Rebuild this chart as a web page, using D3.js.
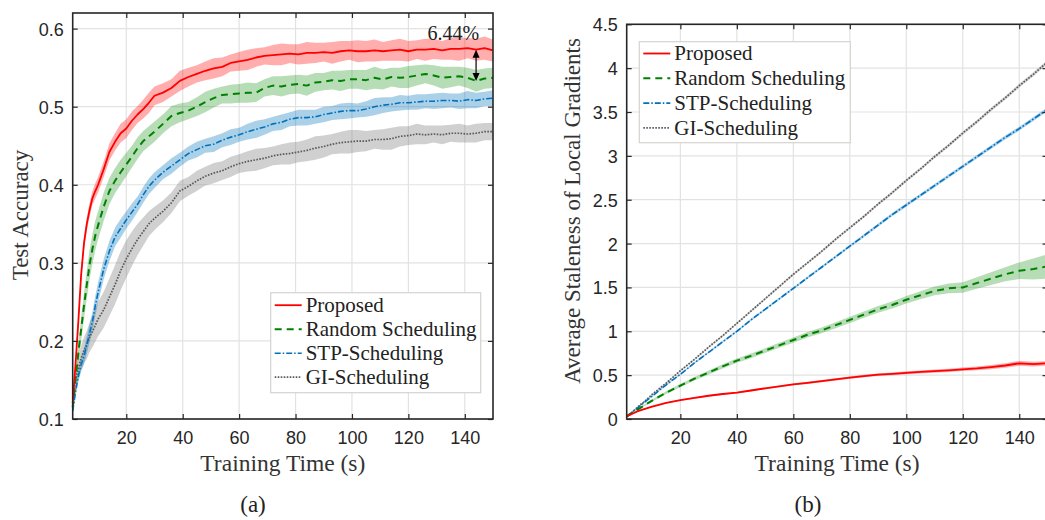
<!DOCTYPE html>
<html>
<head>
<meta charset="utf-8">
<script src="https://cdn.jsdelivr.net/npm/d3@7"></script>
<style>
  html, body { margin: 0; padding: 0; background: #ffffff; }
  svg { display: block; }
</style>
</head>
<body>
<svg id="chart" width="1045" height="520"></svg>
<script>
// ---------- (a) Test accuracy vs training time ----------
const accX = [1,2,3,4,5,6,7,8,9,10,12,14,16,18,20,22,24,26,28,30,
  33,36,39,42,45,48,51,54,57,60,63,66,69,72,75,78,81,84,87,90,
  93,96,99,102,105,108,111,114,117,120,123,126,129,132,135,138,141,144,147,150];

const accProposed = [0.120,0.170,0.225,0.285,0.325,0.350,0.368,0.383,0.392,0.400,
  0.420,0.442,0.455,0.466,0.472,0.482,0.490,0.497,0.505,0.514,
  0.518,0.524,0.533,0.538,0.542,0.546,0.549,0.551,0.556,0.558,
  0.560,0.563,0.565,0.566,0.567,0.568,0.567,0.569,0.569,0.570,
  0.569,0.571,0.572,0.571,0.571,0.572,0.571,0.572,0.573,0.571,
  0.573,0.573,0.574,0.572,0.574,0.574,0.575,0.573,0.575,0.572];
const accRandom = [0.115,0.150,0.185,0.215,0.245,0.272,0.298,0.318,0.335,0.348,
  0.372,0.392,0.405,0.416,0.426,0.436,0.447,0.456,0.462,0.468,
  0.478,0.488,0.492,0.495,0.500,0.506,0.511,0.515,0.516,0.517,
  0.518,0.518,0.524,0.527,0.526,0.528,0.529,0.527,0.531,0.532,
  0.534,0.533,0.535,0.535,0.534,0.537,0.535,0.538,0.537,0.538,
  0.540,0.542,0.540,0.537,0.538,0.539,0.537,0.533,0.536,0.537];
const accSTP = [0.110,0.135,0.155,0.170,0.180,0.195,0.210,0.225,0.245,0.262,
  0.292,0.315,0.333,0.344,0.355,0.365,0.375,0.387,0.398,0.406,
  0.416,0.424,0.432,0.440,0.445,0.450,0.452,0.457,0.461,0.464,
  0.468,0.471,0.474,0.478,0.480,0.484,0.486,0.486,0.487,0.490,
  0.492,0.494,0.495,0.495,0.497,0.500,0.502,0.503,0.505,0.505,
  0.506,0.507,0.507,0.508,0.508,0.507,0.509,0.508,0.510,0.511];
const accGI = [0.130,0.150,0.165,0.178,0.188,0.195,0.205,0.212,0.220,0.228,
  0.240,0.256,0.272,0.290,0.305,0.318,0.330,0.340,0.350,0.357,
  0.366,0.377,0.392,0.398,0.405,0.411,0.415,0.418,0.423,0.427,
  0.430,0.432,0.434,0.437,0.439,0.440,0.442,0.444,0.447,0.449,
  0.452,0.454,0.455,0.456,0.456,0.458,0.458,0.459,0.462,0.463,
  0.465,0.464,0.465,0.464,0.466,0.466,0.465,0.466,0.468,0.468];

// half-width of the shaded spread around each mean curve
const accProposedStd = [0.003,0.005,0.006,0.007,0.008,0.008,0.009,0.009,0.010,0.010,
  0.010,0.011,0.011,0.012,0.012,0.012,0.011,0.012,0.013,0.012,
  0.012,0.011,0.013,0.012,0.011,0.012,0.013,0.012,0.011,0.012,
  0.013,0.012,0.011,0.013,0.014,0.012,0.013,0.014,0.013,0.012,
  0.014,0.013,0.012,0.014,0.013,0.014,0.012,0.013,0.014,0.013,
  0.012,0.014,0.013,0.012,0.014,0.015,0.013,0.014,0.015,0.014];
const accRandomStd = [0.004,0.008,0.012,0.015,0.017,0.018,0.019,0.019,0.019,0.018,
  0.018,0.017,0.016,0.016,0.015,0.014,0.014,0.013,0.013,0.013,
  0.012,0.013,0.012,0.011,0.012,0.013,0.012,0.011,0.012,0.012,
  0.013,0.012,0.011,0.012,0.013,0.012,0.012,0.013,0.012,0.011,
  0.012,0.013,0.012,0.012,0.013,0.014,0.013,0.012,0.013,0.014,
  0.013,0.012,0.013,0.014,0.013,0.012,0.013,0.014,0.013,0.013];
const accSTPStd = [0.004,0.006,0.008,0.009,0.010,0.011,0.012,0.012,0.013,0.013,
  0.013,0.013,0.012,0.012,0.011,0.011,0.010,0.010,0.010,0.010,
  0.009,0.010,0.009,0.009,0.010,0.009,0.010,0.009,0.010,0.009,
  0.010,0.011,0.010,0.009,0.010,0.009,0.010,0.010,0.009,0.010,
  0.009,0.010,0.010,0.009,0.010,0.011,0.010,0.009,0.010,0.009,
  0.010,0.009,0.010,0.010,0.009,0.010,0.011,0.010,0.009,0.010];
const accGIStd = [0.010,0.012,0.014,0.016,0.017,0.018,0.019,0.020,0.021,0.022,
  0.023,0.024,0.025,0.025,0.024,0.022,0.020,0.018,0.016,0.015,
  0.014,0.013,0.013,0.012,0.013,0.012,0.013,0.012,0.013,0.012,
  0.013,0.014,0.013,0.012,0.013,0.014,0.013,0.014,0.015,0.014,
  0.013,0.014,0.015,0.014,0.013,0.012,0.013,0.014,0.013,0.012,
  0.013,0.012,0.011,0.012,0.011,0.012,0.011,0.012,0.011,0.011];

// ---------- (b) Average staleness vs training time ----------
const stX = [1,3,5,8,10,15,20,25,30,35,40,45,50,55,60,65,70,75,80,85,
  90,95,100,105,110,115,120,125,130,135,140,145,150];
const stProposed = [0.03,0.06,0.09,0.12,0.14,0.185,0.215,0.24,0.265,0.285,
  0.300,0.325,0.350,0.372,0.395,0.412,0.432,0.452,0.472,0.490,
  0.505,0.515,0.527,0.537,0.546,0.555,0.566,0.577,0.592,0.610,
  0.635,0.625,0.635];
const stRandom = [0.03,0.07,0.11,0.17,0.21,0.30,0.38,0.46,0.53,0.60,
  0.665,0.72,0.78,0.84,0.90,0.96,1.01,1.07,1.13,1.19,
  1.25,1.30,1.36,1.41,1.46,1.49,1.50,1.55,1.60,1.65,
  1.69,1.71,1.74];
const stSTP = [0.03,0.08,0.13,0.21,0.26,0.39,0.51,0.64,0.76,0.88,
  1.00,1.13,1.25,1.37,1.49,1.61,1.73,1.85,1.97,2.09,
  2.21,2.33,2.44,2.55,2.66,2.77,2.88,2.99,3.10,3.21,
  3.31,3.42,3.53];
const stGI = [0.03,0.08,0.14,0.22,0.28,0.41,0.55,0.68,0.82,0.95,
  1.09,1.23,1.37,1.51,1.65,1.78,1.91,2.05,2.18,2.31,
  2.45,2.58,2.72,2.85,2.99,3.12,3.26,3.39,3.53,3.66,
  3.80,3.93,4.07];

const stProposedStd = [0.003,0.004,0.005,0.006,0.006,0.007,0.007,0.008,0.008,0.009,
  0.009,0.010,0.010,0.011,0.011,0.012,0.012,0.013,0.013,0.014,
  0.014,0.015,0.016,0.017,0.018,0.019,0.020,0.022,0.024,0.026,
  0.028,0.027,0.026];
const stRandomStd = [0.003,0.005,0.007,0.010,0.012,0.015,0.018,0.020,0.022,0.024,
  0.025,0.026,0.027,0.028,0.030,0.031,0.033,0.034,0.035,0.037,
  0.039,0.041,0.043,0.046,0.050,0.055,0.060,0.066,0.072,0.080,
  0.095,0.120,0.140];
const stSTPStd = [0.003,0.004,0.005,0.006,0.007,0.008,0.009,0.010,0.010,0.011,
  0.011,0.012,0.012,0.013,0.013,0.014,0.014,0.015,0.016,0.017,
  0.018,0.018,0.019,0.019,0.020,0.020,0.020,0.021,0.021,0.022,
  0.022,0.022,0.023];
const stGIStd = [0.003,0.004,0.005,0.006,0.007,0.008,0.009,0.010,0.010,0.011,
  0.011,0.012,0.012,0.013,0.013,0.014,0.014,0.015,0.015,0.016,
  0.016,0.017,0.017,0.018,0.018,0.019,0.019,0.020,0.020,0.021,
  0.021,0.022,0.022];

const seriesNames = ["Proposed", "Random Scheduling", "STP-Scheduling", "GI-Scheduling"];
const accTicksY = [0.1,0.2,0.3,0.4,0.5,0.6];
const stTicksY = [0,0.5,1,1.5,2,2.5,3,3.5,4,4.5];
const timeTicks = [20,40,60,80,100,120,140];
const gapLabel = "6.44%";
const gapAt = 144;

// ---------- styles ----------
const styles = [
  { color: "#ff0000", band: "#ff0000", bandOpacity: 0.32, width: 1.8, dash: null },
  { color: "#008000", band: "#109010", bandOpacity: 0.30, width: 2.0, dash: "7,5" },
  { color: "#0072bd", band: "#0072bd", bandOpacity: 0.33, width: 1.6, dash: "6,2,1.5,2" },
  { color: "#5a5a5a", band: "#8a8a8a", bandOpacity: 0.40, width: 1.7, dash: "1.6,1.4" }
];
const SERIF = "'Liberation Serif', 'Times New Roman', serif";
const SANS = "'Liberation Sans', Arial, sans-serif";
const AXIS = "#262626";

const svg = d3.select("#chart");

function panel(cfg) {
  const g = svg.append("g");
  const x = d3.scaleLinear().domain([1, 150]).range([cfg.left, cfg.right]);
  const y = d3.scaleLinear().domain(cfg.yDomain).range([cfg.bottom, cfg.top]);

  // grid
  g.append("g").selectAll("line.v").data(timeTicks).join("line")
    .attr("x1", d => x(d)).attr("x2", d => x(d))
    .attr("y1", cfg.top).attr("y2", cfg.bottom)
    .attr("stroke", "#e2e2e2").attr("stroke-width", 1.2);
  g.append("g").selectAll("line.h").data(cfg.yTicks).join("line")
    .attr("x1", cfg.left).attr("x2", cfg.right)
    .attr("y1", d => y(d)).attr("y2", d => y(d))
    .attr("stroke", "#e2e2e2").attr("stroke-width", 1.2);

  // shaded spreads
  const area = d3.area().x(d => x(d.x)).y0(d => y(d.v - d.s)).y1(d => y(d.v + d.s));
  const line = d3.line().x(d => x(d.x)).y(d => y(d.v));
  const data = cfg.series.map((vals, k) => cfg.xs.map((xv, i) => ({ x: xv, v: vals[i], s: cfg.spreads[k][i] })));

  // draw back to front so the proposed curve sits on top
  const order = [3, 2, 1, 0];
  order.forEach(k => {
    g.append("path").datum(data[k]).attr("d", area)
      .attr("fill", styles[k].band).attr("fill-opacity", styles[k].bandOpacity)
      .attr("stroke", "none");
  });
  order.forEach(k => {
    g.append("path").datum(data[k]).attr("d", line)
      .attr("fill", "none").attr("stroke", styles[k].color)
      .attr("stroke-width", styles[k].width)
      .attr("stroke-dasharray", styles[k].dash)
      .attr("stroke-linejoin", "round");
  });

  // axes (ticks pointing inward on all four sides)
  const xb = g.append("g").attr("transform", `translate(0,${cfg.bottom})`)
    .call(d3.axisBottom(x).tickValues(timeTicks).tickSize(-5).tickPadding(12).tickFormat(d3.format("d")));
  const xt = g.append("g").attr("transform", `translate(0,${cfg.top})`)
    .call(d3.axisTop(x).tickValues(timeTicks).tickSize(-5).tickFormat(""));
  const yl = g.append("g").attr("transform", `translate(${cfg.left},0)`)
    .call(d3.axisLeft(y).tickValues(cfg.yTicks).tickSize(-5).tickPadding(9).tickFormat(cfg.fmt));
  const yr = g.append("g").attr("transform", `translate(${cfg.right},0)`)
    .call(d3.axisRight(y).tickValues(cfg.yTicks).tickSize(-5).tickFormat(""));
  [xb, xt, yl, yr].forEach(a => {
    a.select(".domain").remove();
    a.selectAll(".tick line").attr("stroke", AXIS).attr("stroke-width", 1.2);
    a.selectAll(".tick text").attr("fill", AXIS).style("font-family", SANS).style("font-size", "18px");
  });
  yl.selectAll(".tick text").attr("dy", "0.36em");

  // box
  g.append("rect").attr("x", cfg.left).attr("y", cfg.top)
    .attr("width", cfg.right - cfg.left).attr("height", cfg.bottom - cfg.top)
    .attr("fill", "none").attr("stroke", AXIS).attr("stroke-width", 1.6);

  // axis titles
  g.append("text").attr("x", (cfg.left + cfg.right) / 2 - cfg.xTitleShift).attr("y", 471)
    .attr("text-anchor", "middle").style("font-family", SERIF).style("font-size", "23.5px")
    .attr("fill", "#333").text("Training Time (s)");
  g.append("text")
    .attr("transform", `translate(${cfg.yTitleX},${cfg.yTitleY}) rotate(-90)`)
    .attr("text-anchor", "middle").style("font-family", SERIF).style("font-size", "23px")
    .attr("fill", "#333").text(cfg.yTitle);
  g.append("text").attr("x", cfg.capX).attr("y", 512)
    .attr("text-anchor", "middle").style("font-family", SERIF).style("font-size", "23px")
    .attr("fill", "#222").text(cfg.caption);

  // legend
  const L = cfg.legend;
  const lg = g.append("g");
  lg.append("rect").attr("x", L.x).attr("y", L.y).attr("width", L.w).attr("height", L.h)
    .attr("fill", "#ffffff").attr("stroke", "#d6d3cf").attr("stroke-width", 1.2);
  seriesNames.forEach((name, k) => {
    const cy = L.y + L.first + k * L.step;
    lg.append("line").attr("x1", L.x + 4).attr("x2", L.x + 31).attr("y1", cy).attr("y2", cy)
      .attr("stroke", styles[k].color).attr("stroke-width", styles[k].width)
      .attr("stroke-dasharray", styles[k].dash);
    lg.append("text").attr("x", L.x + 35).attr("y", cy + 6.8)
      .style("font-family", SERIF).style("font-size", "21px").attr("fill", "#222").text(name);
  });

  return { x, y, g };
}

const pa = panel({
  left: 72.7, right: 493, top: 13, bottom: 419,
  yDomain: [0.1, 0.62], yTicks: accTicksY, fmt: d3.format(".1f"),
  xs: accX, series: [accProposed, accRandom, accSTP, accGI],
  spreads: [accProposedStd, accRandomStd, accSTPStd, accGIStd],
  yTitle: "Test Accuracy", yTitleX: 28, yTitleY: 215, xTitleShift: 0,
  caption: "(a)", capX: 253,
  legend: { x: 270.7, y: 292.7, w: 210, h: 100, first: 12.5, step: 24 }
});

const pb = panel({
  left: 626.7, right: 1047.5, top: 24.3, bottom: 419,
  yDomain: [0, 4.5], yTicks: stTicksY, fmt: d => d3.format("~g")(d),
  xs: stX, series: [stProposed, stRandom, stSTP, stGI],
  spreads: [stProposedStd, stRandomStd, stSTPStd, stGIStd],
  yTitle: "Average Staleness of Local Gradients", yTitleX: 580, yTitleY: 211, xTitleShift: 0,
  caption: "(b)", capX: 808,
  legend: { x: 639.3, y: 41.7, w: 211, h: 101, first: 11.8, step: 24.8 }
});

// gap annotation between the proposed and random-scheduling curves
const gi = accX.indexOf(gapAt);
const ax = pa.x(gapAt);
const yTop = pa.y(accProposed[gi]);
const yBot = pa.y(accRandom[gi]);
const head = 8, hw = 3.5;
pa.g.append("line").attr("x1", ax).attr("x2", ax).attr("y1", yTop + head - 1).attr("y2", yBot - head + 1)
  .attr("stroke", "#000").attr("stroke-width", 1.2);
pa.g.append("path")
  .attr("d", `M${ax},${yTop} L${ax - hw},${yTop + head} L${ax + hw},${yTop + head} Z`)
  .attr("fill", "#000");
pa.g.append("path")
  .attr("d", `M${ax},${yBot} L${ax - hw},${yBot - head} L${ax + hw},${yBot - head} Z`)
  .attr("fill", "#000");
pa.g.append("text").attr("x", ax + 3).attr("y", yTop - 10)
  .attr("text-anchor", "end").style("font-family", SERIF).style("font-size", "20px")
  .attr("fill", "#222").text(gapLabel);
</script>
</body>
</html>
